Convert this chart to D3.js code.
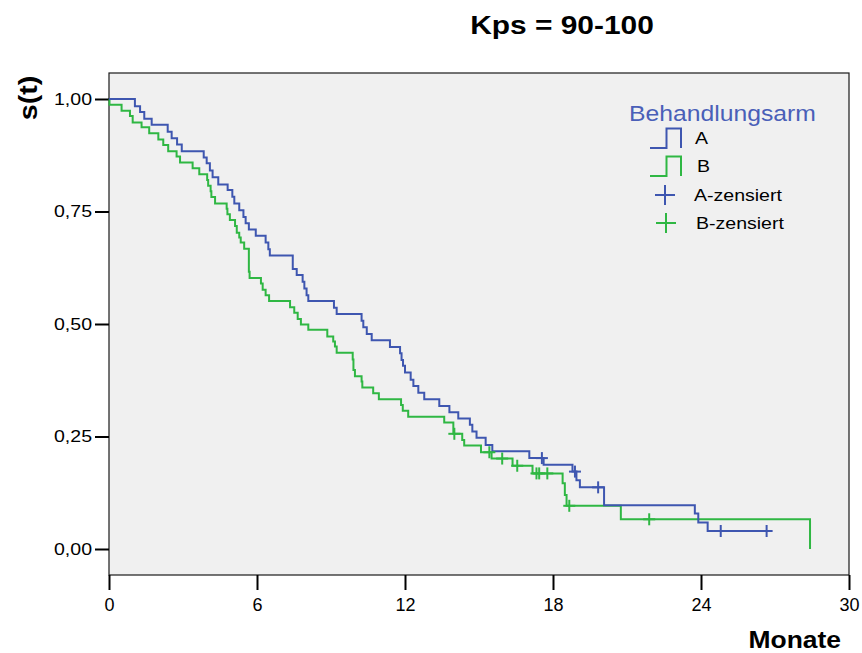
<!DOCTYPE html>
<html lang="de">
<head>
<meta charset="UTF-8">
<title>Kps = 90-100</title>
<style>
    body { margin: 0; background: #fff; overflow: hidden; }
    svg { display: block; }
    text { font-family: "Liberation Sans", Arial, Helvetica, sans-serif; fill: #000; }
    .bold { font-weight: bold; }
</style>
</head>
<body>
<svg id="chart" width="862" height="653"></svg>
<script src="https://d3js.org/d3.v7.min.js"></script>
<script>
// Behandlungsarm A: Ereigniszeiten (Monate) und s(t) nach dem Ereignis
const timesA = [1.05, 1.26, 1.43, 1.73, 2.38, 2.54, 2.76, 2.95, 3.84, 3.96, 4.09, 4.20, 4.43, 4.81,
    5.00, 5.08, 5.28, 5.45, 5.54, 5.67, 5.95, 6.35, 6.46, 6.52, 7.45, 7.61, 7.85, 7.92, 8.01, 8.08,
    9.12, 9.23, 10.24, 10.31, 10.45, 10.65, 11.39, 11.80, 11.86, 11.92, 12.00, 12.23, 12.34, 12.54,
    12.78, 13.39, 13.80, 14.16, 14.63, 14.73, 14.90, 15.27, 15.54, 17.04, 17.62, 18.79, 18.95, 19.09,
    20.07, 23.75, 23.89, 24.27];
const survA = [0.984, 0.971, 0.956, 0.943, 0.927, 0.913, 0.899, 0.884, 0.870, 0.857, 0.841, 0.826, 0.810, 0.798,
    0.783, 0.768, 0.753, 0.738, 0.724, 0.710, 0.696, 0.681, 0.666, 0.652, 0.622, 0.609, 0.594, 0.579, 0.564, 0.551,
    0.536, 0.522, 0.507, 0.493, 0.478, 0.464, 0.449, 0.435, 0.420, 0.407, 0.392, 0.376, 0.362, 0.347,
    0.333, 0.318, 0.304, 0.290, 0.276, 0.261, 0.247, 0.231, 0.217, 0.202, 0.187, 0.172, 0.153, 0.137,
    0.097, 0.079, 0.059, 0.040];
const censA = [17.55, 18.89, 19.83, 24.80, 26.66];

// Behandlungsarm B
const timesB = [0.02, 0.51, 0.85, 0.96, 1.32, 1.63, 2.00, 2.20, 2.40, 2.74, 2.88, 3.39, 3.66, 3.98, 4.02,
    4.12, 4.15, 4.30, 4.77, 4.80, 4.90, 5.11, 5.18, 5.28, 5.34, 5.48, 5.67, 5.70, 6.16, 6.23, 6.35, 6.49,
    7.34, 7.51, 7.65, 7.78, 8.08, 8.85, 9.09, 9.16, 9.23, 9.88, 9.91, 9.97, 10.24, 10.27, 10.71, 10.94,
    11.84, 11.91, 12.13, 13.59, 13.96, 14.32, 14.40, 15.08, 15.51, 16.36, 17.17, 18.39, 18.48, 18.55,
    20.75, 28.42];
const survB = [0.987, 0.974, 0.962, 0.948, 0.937, 0.924, 0.910, 0.898, 0.884, 0.872, 0.859, 0.846, 0.833, 0.820, 0.807,
    0.795, 0.782, 0.768, 0.756, 0.744, 0.731, 0.718, 0.703, 0.692, 0.681, 0.667, 0.616, 0.602, 0.590, 0.576, 0.564, 0.551,
    0.537, 0.525, 0.511, 0.499, 0.487, 0.472, 0.461, 0.450, 0.436, 0.421, 0.398, 0.384, 0.372, 0.359, 0.346, 0.333,
    0.320, 0.307, 0.294, 0.281, 0.256, 0.242, 0.230, 0.215, 0.201, 0.185, 0.168, 0.146, 0.120, 0.096,
    0.066, 0.000];
const censB = [14.00, 15.42, 15.94, 16.55, 17.33, 17.44, 17.77, 18.66, 21.90];

const xTicks = [0, 6, 12, 18, 24, 30];
const yTicks = [0, 0.25, 0.5, 0.75, 1];
const legendLabels = ["A", "B", "A-zensiert", "B-zensiert"];

const blue = "#3e56b0";
const green = "#2fb743";
const stretch = 1.15;   // die Schrift im Original ist etwas breiter gezogen

const svg = d3.select("#chart");
const box = { left: 109, right: 849, top: 73, bottom: 575 };

const x = d3.scaleLinear().domain([0, 30]).range([box.left, box.right]);
const y = d3.scaleLinear().domain([0, 1]).range([549, 99]);

const de = d3.formatLocale({ decimal: ",", thousands: ".", grouping: [3], currency: ["", " €"] });
const fmt = de.format(".2f");

// plot frame
svg.append("rect")
    .attr("x", box.left).attr("y", box.top)
    .attr("width", box.right - box.left).attr("height", box.bottom - box.top)
    .attr("fill", "#f0f0f0")
    .attr("stroke", "#1a1a1a").attr("stroke-width", 1.2);

// axes
const gx = svg.append("g")
    .attr("transform", `translate(0,${box.bottom})`)
    .call(d3.axisBottom(x).tickValues(xTicks).tickSize(15).tickPadding(8).tickFormat(d3.format("d")));
gx.select(".domain").remove();
gx.selectAll("line").attr("stroke", "#000").attr("stroke-width", 2);
gx.selectAll("text").attr("font-size", 18).style("font-family", "Liberation Sans, Arial, sans-serif");

const gy = svg.append("g")
    .attr("transform", `translate(${box.left},0)`)
    .call(d3.axisLeft(y).tickValues(yTicks).tickSize(14).tickPadding(3).tickFormat(fmt));
gy.select(".domain").remove();
gy.selectAll("line").attr("stroke", "#000").attr("stroke-width", 2);
gy.selectAll("text")
    .attr("font-size", 17)
    .style("font-family", "Liberation Sans, Arial, sans-serif")
    .attr("x", -17 / stretch)
    .attr("transform", `scale(${stretch},1)`);

// text helper with horizontal stretch
function label(txt, px, py, size, opts = {}) {
    const t = svg.append("text")
        .attr("transform", `translate(${px},${py}) ${opts.rotate ? "rotate(" + opts.rotate + ")" : ""} scale(${stretch},1)`)
        .attr("font-size", size)
        .attr("text-anchor", opts.anchor || "start")
        .text(txt);
    if (opts.bold) t.attr("class", "bold");
    if (opts.fill) t.style("fill", opts.fill);
    return t;
}

label("Kps = 90-100", 562, 34, 26, { anchor: "middle", bold: true });
label("s(t)", 37, 98, 25, { anchor: "middle", bold: true, rotate: -90 });
label("Monate", 841, 648, 23, { anchor: "end", bold: true });

// Kaplan-Meier step curves
function stepPoints(times, surv, cens) {
    const pts = [[0, 1]];
    let prev = 1;
    times.forEach((t, i) => {
        pts.push([t, prev]);
        pts.push([t, surv[i]]);
        prev = surv[i];
    });
    const lastCens = d3.max(cens);
    if (lastCens > times[times.length - 1]) pts.push([lastCens, prev]);
    return pts;
}

function survAt(times, surv, t) {
    let s = 1;
    times.forEach((tt, i) => { if (tt <= t) s = surv[i]; });
    return s;
}

const line = d3.line().x(d => x(d[0])).y(d => y(d[1]));

const series = [
    { times: timesB, surv: survB, cens: censB, color: green },
    { times: timesA, surv: survA, cens: censA, color: blue }
];

series.forEach(s => {
    svg.append("path")
        .datum(stepPoints(s.times, s.surv, s.cens))
        .attr("fill", "none")
        .attr("stroke", s.color)
        .attr("stroke-width", 2)
        .attr("d", line);
});

series.forEach(s => {
    const cg = svg.append("g").attr("stroke", s.color).attr("stroke-width", 2);
    s.cens.forEach(t => {
        const cx = x(t), cy = y(survAt(s.times, s.surv, t));
        cg.append("line").attr("x1", cx - 6).attr("x2", cx + 6).attr("y1", cy).attr("y2", cy);
        cg.append("line").attr("x1", cx).attr("x2", cx).attr("y1", cy - 6).attr("y2", cy + 6);
    });
});

// legend
label("Behandlungsarm", 629, 121, 21.5, { fill: "#4a5fb8" });

const lg = svg.append("g");
const iconRows = [{ base: 148, color: blue }, { base: 176, color: green }];
iconRows.forEach(r => {
    lg.append("path")
        .attr("d", `M650,${r.base}H666.5V${r.base - 19.5}H681V${r.base}`)
        .attr("fill", "none")
        .attr("stroke", r.color)
        .attr("stroke-width", 2);
});
const crossRows = [{ cx: 665, cy: 195, color: blue }, { cx: 666, cy: 223, color: green }];
crossRows.forEach(r => {
    lg.append("line").attr("x1", r.cx - 10).attr("x2", r.cx + 10).attr("y1", r.cy).attr("y2", r.cy)
        .attr("stroke", r.color).attr("stroke-width", 2);
    lg.append("line").attr("x1", r.cx).attr("x2", r.cx).attr("y1", r.cy - 10).attr("y2", r.cy + 10)
        .attr("stroke", r.color).attr("stroke-width", 2);
});
const labelPos = [[695, 144], [697, 172], [694, 201], [696, 229]];
legendLabels.forEach((t, i) => label(t, labelPos[i][0], labelPos[i][1], 17));
</script>
</body>
</html>
